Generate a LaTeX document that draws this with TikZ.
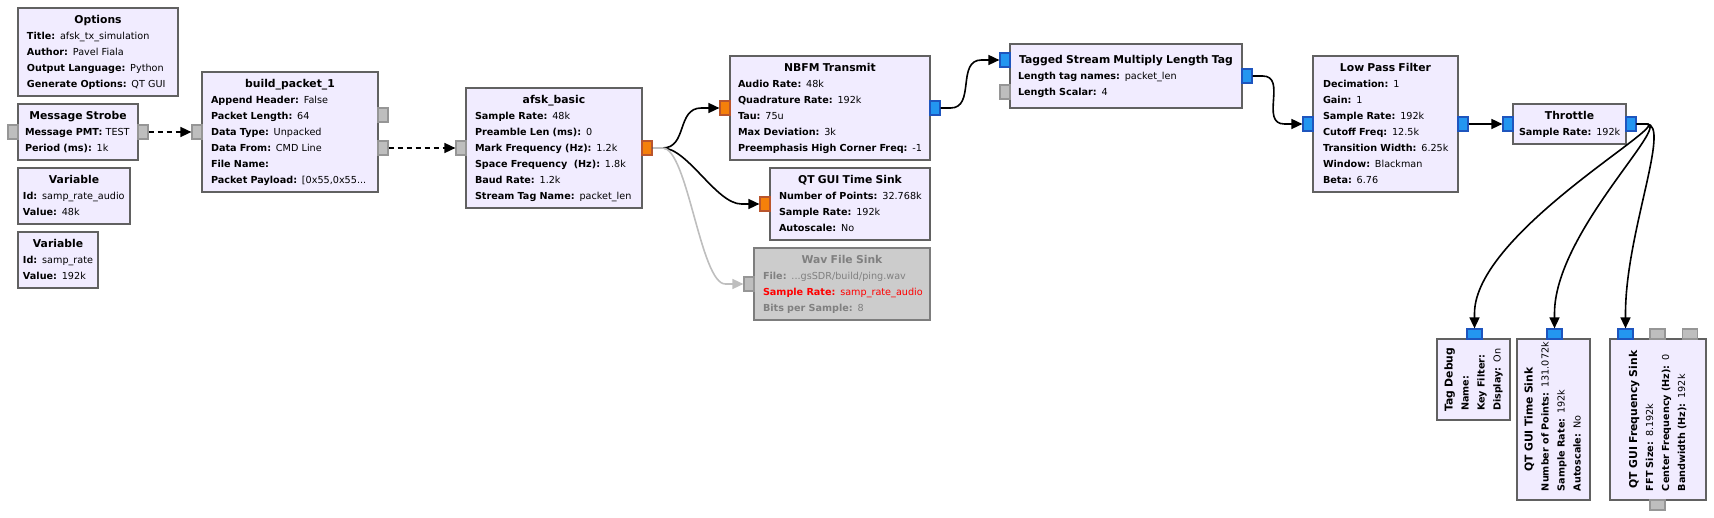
\documentclass[tikz,border=0pt]{standalone}
\usepackage{fontspec}
\setmainfont{DejaVu Sans}
\usetikzlibrary{arrows.meta,calc}

\definecolor{blkfill}{RGB}{241,236,255}
\definecolor{blkdraw}{RGB}{97,97,97}
\definecolor{offfill}{RGB}{204,204,204}
\definecolor{offdraw}{RGB}{125,125,125}
\definecolor{offtext}{RGB}{128,128,128}
\definecolor{fltfill}{RGB}{245,128,10}
\definecolor{fltdraw}{RGB}{185,85,45}
\definecolor{cpxfill}{RGB}{35,150,240}
\definecolor{cpxdraw}{RGB}{30,85,190}
\definecolor{msgfill}{RGB}{190,190,190}
\definecolor{msgdraw}{RGB}{150,150,150}
\definecolor{offwire}{RGB}{190,190,190}

\newcommand{\prmfont}{\fontsize{9.65}{16}\selectfont}
\newcommand{\ttlfont}{\fontsize{10.8}{16}\selectfont\bfseries}
\newcommand{\btitle}[1]{\makebox[\linewidth]{\ttlfont\strut #1}}
\newcommand{\prm}[2]{\mbox{\strut\textbf{#1:} #2}}

\tikzset{
  blk/.style={draw=blkdraw, fill=blkfill, line width=2pt, inner xsep=9pt,
    inner ysep=0pt, align=left, font=\prmfont},
  offblk/.style={blk, draw=offdraw, fill=offfill, text=offtext},
  port/.style={line width=1.2pt, minimum width=10pt, minimum height=14pt,
    inner sep=0pt},
  vport/.style={port, minimum width=15pt, minimum height=10pt},
  fport/.style={draw=fltdraw, fill=fltfill},
  cport/.style={draw=cpxdraw, fill=cpxfill},
  mport/.style={draw=msgdraw, fill=msgfill},
  wire/.style={line width=1.6pt, line join=round,
    -{Triangle[length=11pt,width=10pt]}},
  msgwire/.style={wire, dash pattern=on 5pt off 4pt},
  offwirestyle/.style={wire, draw=offwire}
}

\begin{document}
\begin{tikzpicture}[x=1pt,y=-1pt]
  \useasboundingbox (0,0) rectangle (1714,518);

  % Left column: options and variables
  \node[blk, text width=142pt, minimum height=88pt] (opts) at (98,52) {%
    \btitle{Options}\\
    \prm{Title}{afsk\_tx\_simulation}\\
    \prm{Author}{Pavel Fiala}\\
    \prm{Output Language}{Python}\\
    \prm{Generate Options}{QT GUI}};
  \node[blk, inner xsep=7pt, text width=106pt, minimum height=56pt] (strobe) at (78,132) {%
    \btitle{Message Strobe}\\
    \prm{Message PMT}{TEST}\\
    \prm{Period (ms)}{1k}};
  \node[blk, inner xsep=5pt, text width=102pt, minimum height=56pt] (varaudio) at (74,196) {%
    \btitle{Variable}\\
    \prm{Id}{samp\_rate\_audio}\\
    \prm{Value}{48k}};
  \node[blk, inner xsep=5pt, text width=70pt, minimum height=56pt] (varrate) at (58,260) {%
    \btitle{Variable}\\
    \prm{Id}{samp\_rate}\\
    \prm{Value}{192k}};

  % Packet builder and modulator
  \node[blk, text width=158pt, minimum height=120pt] (bpkt) at (290,132) {%
    \btitle{build\_packet\_1}\\
    \prm{Append Header}{False}\\
    \prm{Packet Length}{64}\\
    \prm{Data Type}{Unpacked}\\
    \prm{Data From}{CMD Line}\\
    \prm{File Name}{}\\
    \prm{Packet Payload}{[0x55,0x55...}};
  \node[blk, text width=158pt, minimum height=120pt] (afsk) at (554,148) {%
    \btitle{afsk\_basic}\\
    \prm{Sample Rate}{48k}\\
    \prm{Preamble Len (ms)}{0}\\
    \prm{Mark Frequency (Hz)}{1.2k}\\
    \prm{Space Frequency\ \ (Hz)}{1.8k}\\
    \prm{Baud Rate}{1.2k}\\
    \prm{Stream Tag Name}{packet\_len}};

  % Audio branch
  \node[blk, inner xsep=8pt, text width=184pt, minimum height=104pt] (nbfm) at (830,108) {%
    \btitle{NBFM Transmit}\\
    \prm{Audio Rate}{48k}\\
    \prm{Quadrature Rate}{192k}\\
    \prm{Tau}{75u}\\
    \prm{Max Deviation}{3k}\\
    \prm{Preemphasis High Corner Freq}{-1}};
  \node[blk, text width=142pt, minimum height=72pt] (tsink) at (850,204) {%
    \btitle{QT GUI Time Sink}\\
    \prm{Number of Points}{32.768k}\\
    \prm{Sample Rate}{192k}\\
    \prm{Autoscale}{No}};
  \node[offblk, text width=158pt, minimum height=72pt] (wav) at (842,284) {%
    \btitle{Wav File Sink}\\
    \prm{File}{...gsSDR/build/ping.wav}\\
    \textcolor{red}{\prm{Sample Rate}{samp\_rate\_audio}}\\
    \prm{Bits per Sample}{8}};

  % RF chain
  \node[blk, inner xsep=8pt, text width=216pt, minimum height=64pt] (tsmlt) at (1126,76) {%
    \btitle{Tagged Stream Multiply Length Tag}\\
    \prm{Length tag names}{packet\_len}\\
    \prm{Length Scalar}{4}};
  \node[blk, inner xsep=10pt, text width=125pt, minimum height=136pt] (lpf) at (1385.5,124) {%
    \btitle{Low Pass Filter}\\
    \prm{Decimation}{1}\\
    \prm{Gain}{1}\\
    \prm{Sample Rate}{192k}\\
    \prm{Cutoff Freq}{12.5k}\\
    \prm{Transition Width}{6.25k}\\
    \prm{Window}{Blackman}\\
    \prm{Beta}{6.76}};
  \node[blk, inner xsep=6pt, text width=101pt, minimum height=40pt] (thr) at (1569.5,124) {%
    \btitle{Throttle}\\
    \prm{Sample Rate}{192k}};

  % Rotated sinks
  \node[blk, rotate=90, text width=63pt, minimum height=73pt] (tagdbg) at (1473.5,379.5) {%
    \btitle{Tag Debug}\\
    \prm{Name}{}\\
    \prm{Key Filter}{}\\
    \prm{Display}{On}};
  \node[blk, rotate=90, text width=143pt, minimum height=73pt] (tsinkb) at (1553.5,419.5) {%
    \btitle{QT GUI Time Sink}\\
    \prm{Number of Points}{131.072k}\\
    \prm{Sample Rate}{192k}\\
    \prm{Autoscale}{No}};
  \node[blk, rotate=90, text width=143pt, minimum height=96pt] (fsink) at (1658,419.5) {%
    \btitle{QT GUI Frequency Sink}\\
    \prm{FFT Size}{8.192k}\\
    \prm{Center Frequency (Hz)}{0}\\
    \prm{Bandwidth (Hz)}{192k}};

  % Ports
  \node[port, mport] (strobeIn) at (13,132) {};
  \node[port, mport] (strobeOut) at (143,132) {};
  \node[port, mport] (bpktIn) at (197,132) {};
  \node[port, mport] (bpktOutA) at (383,115) {};
  \node[port, mport] (bpktOutB) at (383,148) {};
  \node[port, mport] (afskIn) at (461,148) {};
  \node[port, fport] (afskOut) at (647,148) {};
  \node[port, fport] (nbfmIn) at (725,108) {};
  \node[port, cport] (nbfmOut) at (935,108) {};
  \node[port, fport] (tsinkIn) at (765,204) {};
  \node[port, mport] (wavIn) at (749,284) {};
  \node[port, cport] (tsmltIn) at (1005,60) {};
  \node[port, mport] (tsmltLen) at (1005,92) {};
  \node[port, cport] (tsmltOut) at (1247,76) {};
  \node[port, cport] (lpfIn) at (1308,124) {};
  \node[port, cport] (lpfOut) at (1463,124) {};
  \node[port, cport] (thrIn) at (1508,124) {};
  \node[port, cport] (thrOut) at (1631,124) {};
  \node[vport, cport] (tagdbgIn) at (1474.5,334) {};
  \node[vport, cport] (tsinkbIn) at (1554.5,334) {};
  \node[vport, cport] (fsinkIn) at (1625.5,334) {};
  \node[vport, mport] (fsinkFreq) at (1657.5,334) {};
  \node[vport, mport] (fsinkBw) at (1690,334) {};
  \node[vport, mport] (fsinkOut) at (1657.5,505) {};

  % Message connections
  \draw[msgwire] (strobeOut.east) -- (bpktIn.west);
  \draw[msgwire] (bpktOutB.east) -- (afskIn.west);

  % Stream connections
  \draw[wire] (afskOut.east) -- ++(10,0) .. controls +(25,0) and +(-25,0) ..
    ($(nbfmIn.west)+(-18,0)$) -- (nbfmIn.west);
  \draw[wire] (afskOut.east) -- ++(10,0) .. controls +(25,0) and +(-25,0) ..
    ($(tsinkIn.west)+(-18,0)$) -- (tsinkIn.west);
  \draw[offwirestyle] (afskOut.east) -- ++(10,0) .. controls +(25,0) and +(-25,0) ..
    ($(wavIn.west)+(-18,0)$) -- (wavIn.west);
  \draw[wire] (nbfmOut.east) -- ++(10,0) .. controls +(25,0) and +(-25,0) ..
    ($(tsmltIn.west)+(-18,0)$) -- (tsmltIn.west);
  \draw[wire] (tsmltOut.east) -- ++(10,0) .. controls +(25,0) and +(-25,0) ..
    ($(lpfIn.west)+(-18,0)$) -- (lpfIn.west);
  \draw[wire] (lpfOut.east) -- (thrIn.west);

  % Throttle fan-out to the sinks
  \draw[wire] (thrOut.east) -- ++(10,0) .. controls +(25,0) and +(0,-80) ..
    ($(tagdbgIn.north)+(0,-15)$) -- (tagdbgIn.north);
  \draw[wire] (thrOut.east) -- ++(10,0) .. controls +(25,0) and +(0,-80) ..
    ($(tsinkbIn.north)+(0,-15)$) -- (tsinkbIn.north);
  \draw[wire] (thrOut.east) -- ++(10,0) .. controls +(25,0) and +(0,-80) ..
    ($(fsinkIn.north)+(0,-15)$) -- (fsinkIn.north);
\end{tikzpicture}
\end{document}
